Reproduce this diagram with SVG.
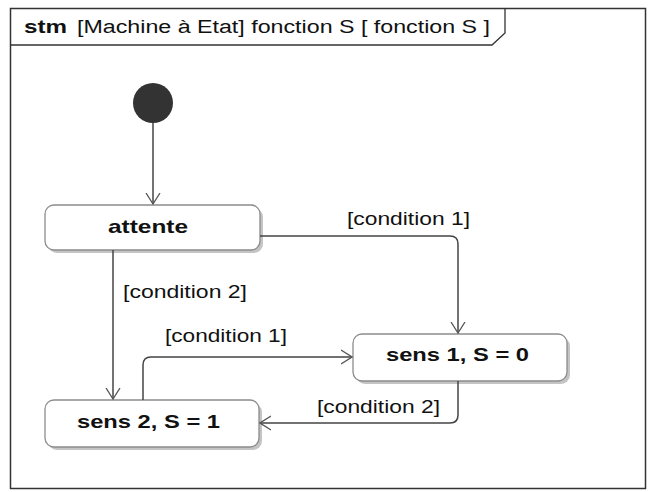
<svg xmlns="http://www.w3.org/2000/svg" width="650" height="492" viewBox="0 0 650 492">
<defs>
<style>
.frame{fill:#fff;stroke:#333;stroke-width:1.5}
.tab{fill:none;stroke:#333;stroke-width:1.3}
.box{fill:#fff;stroke:#8c8c8c;stroke-width:1.3}
.shadow{fill:#c4c4c4}
.edge{fill:none;stroke:#444;stroke-width:1.5}
.lbl{font-family:"Liberation Sans",Arial,sans-serif;font-size:18px;fill:#111}
.st{font-family:"Liberation Sans",Arial,sans-serif;font-size:19px;font-weight:bold;fill:#111}
</style>
<marker id="arr" viewBox="0 0 12 16" refX="11" refY="8" markerWidth="12" markerHeight="16" markerUnits="userSpaceOnUse" orient="auto">
<path d="M0,1 L11,8 L0,15" fill="none" stroke="#555" stroke-width="1.3"/>
</marker>
</defs>
<g id="frame">
<rect class="frame" x="10.5" y="8.5" width="635" height="480"/>
<path class="tab" d="M10.5,45 L492,45 L505,33 L505,8.5"/>
<text x="24" y="33" class="st" font-size="18" textLength="43" lengthAdjust="spacingAndGlyphs">stm</text>
<text x="77" y="33" class="lbl" textLength="413" lengthAdjust="spacingAndGlyphs">[Machine à Etat] fonction S [ fonction S ]</text>
</g>
<g id="initial">
<circle cx="153" cy="103" r="20" fill="#333"/>
</g>
<g id="attente">
<rect class="shadow" x="48" y="208" width="215" height="45" rx="9"/>
<rect class="box" x="45" y="205" width="215" height="45" rx="9"/>
<text x="108" y="233" class="st" textLength="80" lengthAdjust="spacingAndGlyphs">attente</text>
</g>
<g id="sens1">
<rect class="shadow" x="356" y="337" width="214" height="47" rx="9"/>
<rect class="box" x="353" y="334" width="214" height="47" rx="9"/>
<text x="386" y="361" class="st" textLength="143" lengthAdjust="spacingAndGlyphs">sens 1, S = 0</text>
</g>
<g id="sens2">
<rect class="shadow" x="48" y="403" width="214" height="47" rx="9"/>
<rect class="box" x="45" y="400" width="214" height="47" rx="9"/>
<text x="77" y="428" class="st" textLength="143" lengthAdjust="spacingAndGlyphs">sens 2, S = 1</text>
</g>
<g id="connectors">
<path class="edge" d="M153,123 L153,204" marker-end="url(#arr)"/>
<path class="edge" d="M260,236 L450,236 Q458,236 458,244 L458,333" marker-end="url(#arr)"/>
<path class="edge" d="M113,250 L113,399" marker-end="url(#arr)"/>
<path class="edge" d="M143,400 L143,365 Q143,357 151,357 L352,357" marker-end="url(#arr)"/>
<path class="edge" d="M458,381 L458,415 Q458,423 450,423 L260,423" marker-end="url(#arr)"/>
<text x="347" y="225" class="lbl" textLength="123" lengthAdjust="spacingAndGlyphs">[condition 1]</text>
<text x="123" y="298" class="lbl" textLength="124" lengthAdjust="spacingAndGlyphs">[condition 2]</text>
<text x="165" y="342" class="lbl" textLength="122" lengthAdjust="spacingAndGlyphs">[condition 1]</text>
<text x="317" y="413" class="lbl" textLength="123" lengthAdjust="spacingAndGlyphs">[condition 2]</text>
</g>
</svg>
